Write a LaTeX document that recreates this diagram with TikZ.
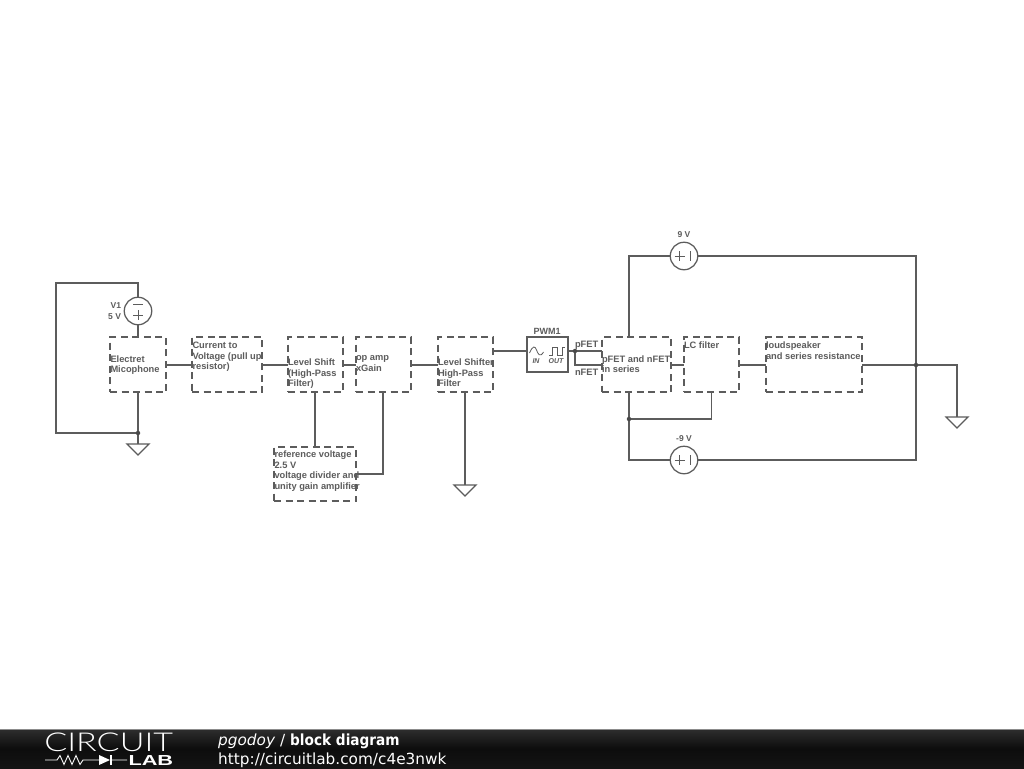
\documentclass[tikz,border=0pt]{standalone}
\usepackage{graphicx}
\usepackage{fontspec}
\setmainfont{Liberation Sans}
\newfontfamily\barfont{DejaVu Sans}
\newfontfamily\logofont{Lato Light}
\newfontfamily\logobold{Liberation Sans}
\definecolor{wirec}{HTML}{5C5C5C}
\tikzset{
  wire/.style={draw=wirec,line width=1.25pt},
  blk/.style={draw=wirec,line width=1.25pt,dash pattern=on 7pt off 4.5pt,rectangle,inner sep=0pt,outer sep=0pt,anchor=north west},
  txt/.style={text=wirec,inner sep=0pt,outer sep=0pt,anchor=north west,align=left,font=\fontsize{9.3}{10.6}\selectfont\bfseries},
  lab/.style={text=wirec,inner sep=0pt,outer sep=0pt,font=\fontsize{8.5}{10}\selectfont\bfseries},
  src/.style={draw=wirec,line width=1.25pt,circle,minimum size=27.5pt,inner sep=0pt,outer sep=0pt,fill=white},
  jdot/.style={circle,fill=wirec!80!black,minimum size=4.5pt,inner sep=0pt,outer sep=0pt},
  gndtri/.style={draw=wirec,line width=1.25pt,fill=white}
}
\newcommand{\gndsym}[3]{\coordinate (#1) at (#2,#3);
  \draw[gndtri] (#1) ++(-11,0) -- ++(22,0) -- ++(-11,11) -- cycle;}
\begin{document}
\begin{tikzpicture}[x=1pt,y=-1pt]
\useasboundingbox[fill=white] (0,0) rectangle (1024,768);
% blocks
\node[blk,minimum width=56pt,minimum height=55pt] (mic) at (110,337) {};
\node[blk,minimum width=70pt,minimum height=55pt] (cur) at (192,337) {};
\node[blk,minimum width=55pt,minimum height=55pt] (ls1) at (288,337) {};
\node[blk,minimum width=55pt,minimum height=55pt] (opa) at (356,337) {};
\node[blk,minimum width=55pt,minimum height=55pt] (ls2) at (438,337) {};
\node[blk,minimum width=69pt,minimum height=55pt] (fet) at (602,337) {};
\node[blk,minimum width=55pt,minimum height=55pt] (lcf) at (684,337) {};
\node[blk,minimum width=96pt,minimum height=55pt] (spk) at (766,337) {};
\node[blk,minimum width=82pt,minimum height=54pt] (ref) at (274,447) {};
\node[draw=wirec,line width=1.25pt,rectangle,inner sep=0pt,outer sep=0pt,anchor=north west,minimum width=41pt,minimum height=35pt] (pwm) at (527,337) {};
% sources
\node[src] (v1) at (138,311) {};
\node[src] (sp) at (684,256) {};
\node[src] (sn) at (684,460) {};
\draw[wirec,line width=1pt] (133,304.5) -- (143,304.5) (133,315) -- (143,315) (138,310) -- (138,320);
\foreach \yy in {256,460}{\draw[wirec,line width=1pt] (674.5,\yy) -- (684.5,\yy) (679.5,\yy-5) -- (679.5,\yy+5) (690,\yy-5) -- (690,\yy+5);}
% junctions and grounds
\coordinate (fetT) at (629,337);
\coordinate (fetB) at (629,392);
\coordinate (pin) at (602,351);
\coordinate (nin) at (602,365);
\coordinate (ls1B) at (315,392);
\coordinate (refT) at (315,447);
\coordinate (opaB) at (383,392);
\coordinate (ls2B) at (465,392);
\coordinate (ls2E) at (493,351);
\coordinate (pwmI) at (527,351);
\coordinate (pwmO) at (568,351);
\coordinate (lcB) at (711.5,392);
\coordinate (loopTL) at (56,283);
\coordinate (loopBL) at (56,433);
\coordinate (rgt) at (916,365);
\coordinate (pout) at (575,351);
\coordinate (fb) at (629,419);
\coordinate (mj) at (138,433);
\gndsym{g1}{138}{444}
\gndsym{g2}{465}{485}
\gndsym{g3}{957}{417}
% connectors
\draw[wire] (v1.south) -- (mic.north);
\draw[wire] (v1.north) |- (loopTL) -- (loopBL) -- (mj);
\draw[wire] (mic.south) -- (g1);
\draw[wire] ([yshift=-.5pt]mic.east) -- ([yshift=-.5pt]cur.west);
\draw[wire] ([yshift=-.5pt]cur.east) -- ([yshift=-.5pt]ls1.west);
\draw[wire] ([yshift=-.5pt]ls1.east) -- ([yshift=-.5pt]opa.west);
\draw[wire] ([yshift=-.5pt]opa.east) -- ([yshift=-.5pt]ls2.west);
\draw[wire] (ls1B) -- (refT);
\draw[wire] (opaB) |- (ref.east);
\draw[wire] (ls2B) -- (g2);
\draw[wire] (ls2E) -- (pwmI);
\draw[wire] (pwmO) -- (pout) -- (pin);
\draw[wire] (pout) |- (nin);
\draw[wire] ([yshift=-.5pt]fet.east) -- ([yshift=-.5pt]lcf.west);
\draw[wire] ([yshift=-.5pt]lcf.east) -- ([yshift=-.5pt]spk.west);
\draw[wire] ([yshift=-.5pt]spk.east) -- (rgt);
\draw[wire] (rgt) -| (g3);
\draw[wire] (fetT) |- (sp.west);
\draw[wire] (sp.east) -| (rgt);
\draw[wire] (rgt) |- (sn.east);
\draw[wire] (sn.west) -| (fetB);
\draw[wire] (lcB) |- (fb);
\node[jdot] (j1) at (mj) {};
\node[jdot] (j2) at (pout) {};
\node[jdot] (j3) at (fb) {};
\node[jdot] (j4) at (rgt) {};
% PWM symbols
\draw[wirec,line width=.8pt] (529.5,353) .. controls (533,345) and (535,346) .. (536.5,350) .. controls (538,354) and (540,358) .. (543.5,352);
\draw[wirec,line width=.8pt] (549,355) -- (552,355) -- (552,347) -- (557,347) -- (557,355) -- (562,355) -- (562,347) -- (565,347);
\node[lab,font=\fontsize{7}{8}\selectfont\bfseries\itshape] (pwmin) at (536,361) {IN};
\node[lab,font=\fontsize{7}{8}\selectfont\bfseries\itshape] (pwmout) at (556,361) {OUT};
% labels
\node[lab,font=\fontsize{9}{10}\selectfont\bfseries] (pwml) at (547,331) {PWM1};
\node[lab,anchor=east] (v1a) at (121,306) {V1};
\node[lab,anchor=east] (v1b) at (121,316.5) {5 V};
\node[lab] (lp) at (684,234.5) {9 V};
\node[lab] (ln) at (684,438.5) {-9 V};
\node[txt,anchor=west] (tp) at (575,345.5) {pFET};
\node[txt,anchor=west] (tn) at (575,372.5) {nFET};
\node[txt] (t1) at (110.5,355.5) {Electret\\Micophone};
\node[txt] (t2) at (192.5,342) {Current to\\Voltage (pull up\\resistor)};
\node[txt] (t3) at (288,359) {Level Shift\\(High-Pass\\Filter)};
\node[txt] (t4) at (356,355.5) {op amp\\xGain};
\node[txt] (t5) at (438,359) {Level Shifter\\High-Pass\\Filter};
\node[txt] (t6) at (602,355.5) {pFET and nFET\\in series};
\node[txt] (t7) at (684,342) {LC filter};
\node[txt] (t8) at (766,342) {loudspeaker\\and series resistance};
\node[txt] (t9) at (274.5,451) {reference voltage\\2.5 V\\voltage divider and\\unity gain amplifier};
% footer
\fill[top color=black!82,bottom color=black!92,middle color=black!95] (0,729) rectangle (1024,768);
\draw[black!45,line width=.8pt] (0,729) -- (1024,729);
\node[anchor=west,inner sep=0pt,text=white,font=\barfont\fontsize{15.3}{17}\selectfont] (title) at (218,741) {\textit{pgodoy} / \scalebox{0.893}[1]{\textbf{block diagram}}};
\node[anchor=west,inner sep=0pt,text=white,font=\barfont\fontsize{15.3}{17}\selectfont] (url) at (218,760) {http://circuitlab.com/c4e3nwk};
\node[anchor=west,inner sep=0pt,text=white,xscale=1.31,font=\logofont\fontsize{26}{27}\selectfont] (logo) at (44,742) {CIRCUIT};
\node[anchor=east,inner sep=0pt,text=white,xscale=1.5,font=\logobold\fontsize{14.5}{15}\selectfont\bfseries] (lab) at (173.5,760) {LAB};
\draw[white,line width=.9pt] (45,760) -- (57,760) -- (60,755.5) -- (64,764.5) -- (68,755.5) -- (72,764.5) -- (76,755.5) -- (80,764.5) -- (83,760) -- (99,760) (110,760) -- (127,760);
\fill[white] (99,755) -- (110,760) -- (99,765) -- cycle;
\draw[white,line width=1.2pt] (111,755) -- (111,765);
\end{tikzpicture}
\end{document}
